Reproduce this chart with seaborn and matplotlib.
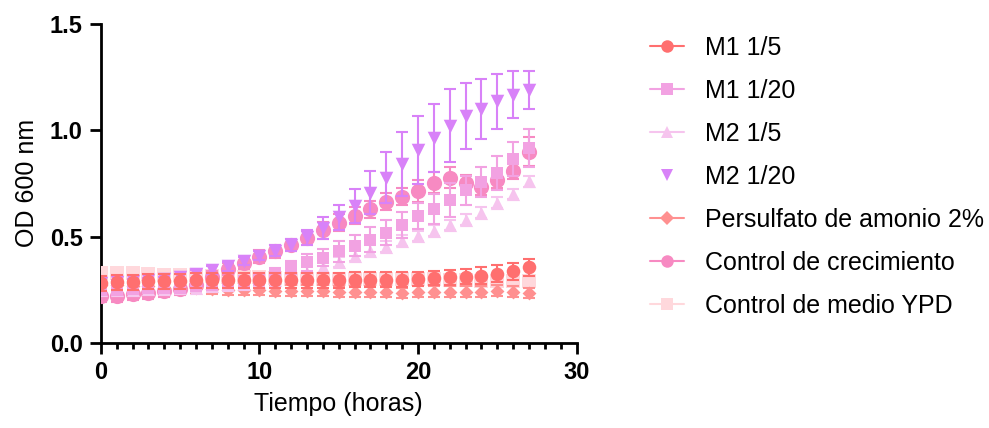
import matplotlib
matplotlib.use('Agg')
import matplotlib.pyplot as plt
from matplotlib.lines import Line2D
import pandas as pd
import seaborn as sns

# Time points (hours)
horas = list(range(28))

# OD 600 means per group
m1_15 = [0.28, 0.285, 0.285, 0.29, 0.29, 0.29, 0.295, 0.295, 0.295, 0.295, 0.295, 0.295, 0.295, 0.295,
         0.295, 0.295, 0.297, 0.297, 0.297, 0.297, 0.30, 0.305, 0.308, 0.312, 0.316, 0.324, 0.337, 0.355]
m1_120 = [0.25, 0.25, 0.255, 0.26, 0.26, 0.26, 0.265, 0.27, 0.28, 0.29, 0.30, 0.32, 0.355, 0.38,
          0.40, 0.43, 0.457, 0.485, 0.519, 0.555, 0.597, 0.631, 0.672, 0.717, 0.758, 0.80, 0.863, 0.917]
m2_15 = [0.25, 0.25, 0.25, 0.255, 0.255, 0.26, 0.26, 0.265, 0.27, 0.275, 0.285, 0.295, 0.31, 0.33,
         0.355, 0.38, 0.41, 0.433, 0.453, 0.48, 0.503, 0.527, 0.555, 0.58, 0.613, 0.66, 0.70, 0.76]
m2_120 = [0.28, 0.285, 0.29, 0.295, 0.30, 0.31, 0.324, 0.343, 0.36, 0.386, 0.41, 0.433, 0.46, 0.496,
          0.54, 0.59, 0.644, 0.706, 0.777, 0.842, 0.905, 0.964, 1.022, 1.065, 1.10, 1.136, 1.167, 1.19]
persulfato = [0.27, 0.27, 0.265, 0.265, 0.26, 0.26, 0.26, 0.255, 0.25, 0.25, 0.25, 0.245, 0.245, 0.245,
              0.245, 0.24, 0.24, 0.24, 0.24, 0.235, 0.24, 0.24, 0.24, 0.24, 0.24, 0.245, 0.24, 0.235]
control_crec = [0.22, 0.22, 0.23, 0.235, 0.245, 0.255, 0.27, 0.31, 0.347, 0.375, 0.405, 0.43, 0.46, 0.493,
                0.53, 0.566, 0.597, 0.628, 0.663, 0.688, 0.714, 0.753, 0.777, 0.75, 0.735, 0.766, 0.81, 0.90]
control_ypd = [0.33, 0.33, 0.33, 0.325, 0.32, 0.32, 0.32, 0.315, 0.31, 0.31, 0.31, 0.305, 0.30, 0.30,
               0.30, 0.30, 0.30, 0.30, 0.30, 0.30, 0.30, 0.30, 0.295, 0.295, 0.29, 0.29, 0.29, 0.29]

# standard deviations
m1_15_sd = [0.035] * 20 + [0.035, 0.035, 0.035, 0.035, 0.04, 0.04, 0.04, 0.04]
m1_120_sd = [0.02] * 9 + [0.025, 0.03, 0.03, 0.03, 0.04, 0.04, 0.05, 0.05, 0.06, 0.06, 0.06, 0.06,
                          0.07, 0.08, 0.07, 0.07, 0.08, 0.08, 0.09]
m2_15_sd = [0.02] * 12 + [0.025] * 16
m2_120_sd = [0.01, 0.01, 0.01, 0.01, 0.01, 0.015, 0.02, 0.02, 0.02, 0.02, 0.02, 0.025, 0.03, 0.035,
             0.05, 0.06, 0.08, 0.10, 0.12, 0.15, 0.16, 0.16, 0.17, 0.155, 0.14, 0.13, 0.11, 0.09]
persulfato_sd = [0.025] * 28
control_crec_sd = [0.03] * 8 + [0.03, 0.03, 0.03, 0.03, 0.03, 0.035, 0.04, 0.04, 0.04, 0.04, 0.04,
                                0.04, 0.05, 0.05, 0.05, 0.04, 0.04, 0.04, 0.04, 0.07]
control_ypd_sd = [0.02] * 28

grupos = ['M1 1/5', 'M1 1/20', 'M2 1/5', 'M2 1/20', 'Persulfato de amonio 2%',
          'Control de crecimiento', 'Control de medio YPD']
medias = [m1_15, m1_120, m2_15, m2_120, persulfato, control_crec, control_ypd]
sds = [m1_15_sd, m1_120_sd, m2_15_sd, m2_120_sd, persulfato_sd, control_crec_sd, control_ypd_sd]
colores = ['#ff6f6f', '#f2a2e2', '#f6c4ee', '#d882f8', '#ff9090', '#f78ac2', '#ffd8dc']
marcadores = ['o', 's', '^', 'v', 'D', 'o', 's']
tamanos = [95, 85, 90, 95, 50, 120, 95]

df = pd.concat([pd.DataFrame({'horas': horas, 'od': m, 'sd': s, 'grupo': g})
                for g, m, s in zip(grupos, medias, sds)], ignore_index=True)

sns.set_style('ticks', {'text.color': 'black', 'axes.labelcolor': 'black',
                        'xtick.color': 'black', 'ytick.color': 'black'})
plt.rcParams['font.family'] = ['Liberation Sans', 'DejaVu Sans']

fig = plt.figure(figsize=(9.89, 4.28), dpi=100)
ax = fig.add_axes([0.102, 0.199, 0.481, 0.745])

n = len(grupos)
for i, (g, c, mk, sz) in enumerate(zip(grupos, colores, marcadores, tamanos)):
    sub = df[df['grupo'] == g]
    z = 10 + 2 * (n - i)
    ax.errorbar(sub['horas'], sub['od'], yerr=sub['sd'], fmt='none', ecolor=c,
                elinewidth=1.5, capsize=4, capthick=1.5, zorder=z)
    sns.scatterplot(data=sub, x='horas', y='od', color=c, marker=mk, s=sz,
                    linewidth=0, ax=ax, zorder=z + 1, legend=False)

ax.set_xlim(0, 30)
ax.set_ylim(0, 1.5)
ax.set_xticks([0, 10, 20, 30])
ax.set_xticks(range(0, 31), minor=True)
ax.set_yticks([0.0, 0.5, 1.0, 1.5])
ax.set_yticklabels(['0.0', '0.5', '1.0', '1.5'])
ax.tick_params(axis='both', which='major', length=8, width=2, labelsize=17, pad=5,
               color='black', labelcolor='black')
ax.tick_params(axis='x', which='minor', length=4, width=2, color='black')
for lab in ax.get_xticklabels() + ax.get_yticklabels():
    lab.set_fontweight('bold')
for sp in ['left', 'bottom']:
    ax.spines[sp].set_linewidth(2)
    ax.spines[sp].set_color('black')
sns.despine(ax=ax)
for sp in ['left', 'bottom']:
    ax.spines[sp].set_clip_on(False)

ax.set_xlabel('Tiempo (horas)', fontsize=18, labelpad=6, color='black')
ax.set_ylabel('OD 600 nm', fontsize=18, labelpad=8, color='black')

handles = []
for g, c, mk in zip(grupos, colores, marcadores):
    ls = 'none' if g == 'M2 1/20' else '-'
    ms = 7 if mk == 'D' else 9
    handles.append(Line2D([0], [0], color=c, marker=mk, linestyle=ls, linewidth=1.5,
                          markersize=ms, markeredgewidth=0))
leg = fig.legend(handles, grupos, loc='upper left', bbox_to_anchor=(0.647, 0.94), frameon=False,
                 fontsize=18, handlelength=1.36, handletextpad=0.84, labelspacing=0.76,
                 borderaxespad=0)
for t in leg.get_texts():
    t.set_color('black')

fig.savefig('out.png', dpi=100)
